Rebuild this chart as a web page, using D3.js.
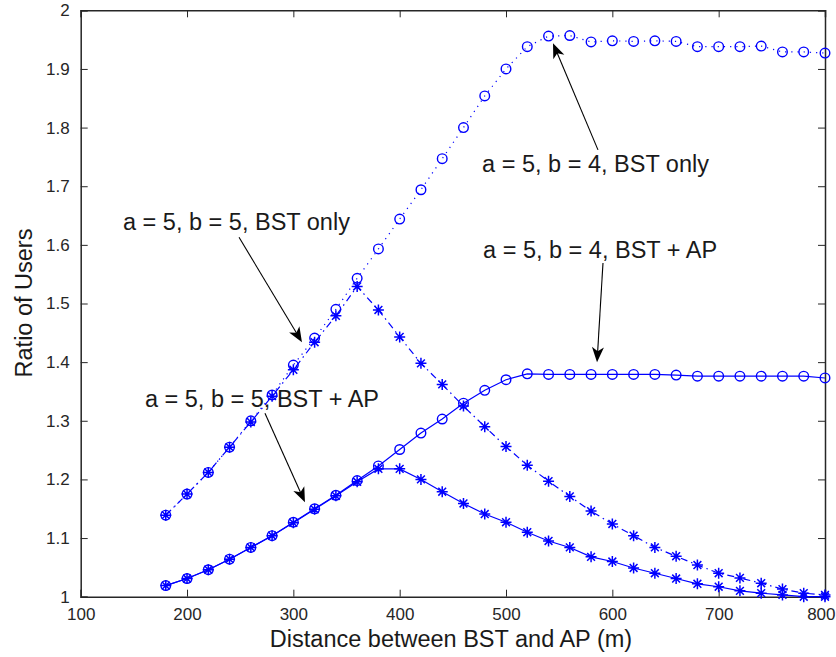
<!DOCTYPE html>
<html>
<head>
<meta charset="utf-8">
<script src="https://cdn.jsdelivr.net/npm/d3@7"></script>
<style>
  html, body { margin: 0; padding: 0; background: #fff; }
  svg { display: block; font-family: "Liberation Sans", Arial, sans-serif; }
  .axis path, .axis line { stroke: #262626; }
  .axis text { fill: #262626; font-size: 17px; }
</style>
</head>
<body>
<svg id="chart" width="836" height="657"></svg>
<script>
'use strict';

// Distances between BST and AP (m), one point every 20 m
const distances = [180, 200, 220, 240, 260, 280, 300, 320, 340, 360, 380, 400, 420, 440, 460, 480,
  500, 520, 540, 560, 580, 600, 620, 640, 660, 680, 700, 720, 740, 760, 780, 800];

// a = 5, b = 4, BST only (circles, dotted)
const bst4Only = [1.139, 1.175, 1.212, 1.255, 1.300, 1.344, 1.395, 1.441, 1.490, 1.543, 1.593, 1.644,
  1.694, 1.747, 1.800, 1.854, 1.900, 1.938, 1.956, 1.957, 1.946, 1.948, 1.947, 1.948, 1.947, 1.938,
  1.938, 1.938, 1.939, 1.929, 1.929, 1.927];

// a = 5, b = 5, BST only (stars, dash-dot)
const bst5Only = [1.139, 1.175, 1.212, 1.255, 1.298, 1.342, 1.387, 1.434, 1.479, 1.529, 1.489, 1.443,
  1.398, 1.362, 1.325, 1.290, 1.256, 1.224, 1.197, 1.171, 1.146, 1.124, 1.104, 1.084, 1.069, 1.054,
  1.040, 1.032, 1.023, 1.013, 1.006, 1.003];

// a = 5, b = 4, BST + AP (circles, solid)
const bst4Ap = [1.019, 1.031, 1.046, 1.064, 1.084, 1.104, 1.127, 1.150, 1.173, 1.198, 1.223, 1.251,
  1.279, 1.303, 1.330, 1.352, 1.370, 1.380, 1.379, 1.379, 1.379, 1.379, 1.379, 1.379, 1.378, 1.376,
  1.376, 1.376, 1.376, 1.376, 1.376, 1.373];

// a = 5, b = 5, BST + AP (stars, solid)
const bst5Ap = [1.019, 1.031, 1.046, 1.064, 1.084, 1.104, 1.126, 1.149, 1.172, 1.196, 1.218, 1.218,
  1.200, 1.179, 1.159, 1.141, 1.127, 1.110, 1.095, 1.084, 1.068, 1.060, 1.049, 1.040, 1.031, 1.022,
  1.017, 1.010, 1.006, 1.003, 1.000, 1.000];

const xTicks = [100, 200, 300, 400, 500, 600, 700, 800];
const yTicks = [1, 1.1, 1.2, 1.3, 1.4, 1.5, 1.6, 1.7, 1.8, 1.9, 2];

// Annotation texts, placed in data units: [label, textX, textY, tailX, tailY, headX, headY]
const notes = [
  ['a = 5, b = 4, BST only', 477.5, 1.724, 586.5, 1.762, 544.2, 1.944],
  ['a = 5, b = 5, BST only', 139.8, 1.625, 248.9, 1.613, 308.1, 1.434],
  ['a = 5, b = 4, BST + AP', 478.4, 1.578, 591.2, 1.569, 585.6, 1.400],
  ['a = 5, b = 5, BST + AP', 160.4, 1.324, 273.3, 1.313, 310.9, 1.161]
];

const margin = { top: 10.3, right: 11, bottom: 60.3, left: 80.7 };
const width = 836 - margin.left - margin.right;
const height = 657 - margin.top - margin.bottom;

const svg = d3.select('#chart');
const g = svg.append('g').attr('transform', `translate(${margin.left},${margin.top})`);

const x = d3.scaleLinear().domain([100, 800]).range([0, width]);
const y = d3.scaleLinear().domain([1, 2]).range([height, 0]);
const fmt = d3.format('~g');

// Axes : ticks point inward, mirrored on top and right
const xAxis = g.append('g').attr('class', 'axis')
  .attr('transform', `translate(0,${height})`)
  .call(d3.axisBottom(x).tickValues(xTicks).tickFormat(fmt).tickSize(-7).tickPadding(11));
g.append('g').attr('class', 'axis')
  .call(d3.axisTop(x).tickValues(xTicks).tickFormat('').tickSize(-7));
g.append('g').attr('class', 'axis')
  .call(d3.axisLeft(y).tickValues(yTicks).tickFormat(fmt).tickSize(-7).tickPadding(11));
g.append('g').attr('class', 'axis')
  .attr('transform', `translate(${width},0)`)
  .call(d3.axisRight(y).tickValues(yTicks).tickFormat('').tickSize(-7));
g.selectAll('.axis path').attr('stroke-width', 1.5);
g.selectAll('.axis text').style('font-size', '17px');

// keep the last x label inside the window
xAxis.selectAll('.tick text')
  .filter(d => d === 800)
  .attr('text-anchor', 'end')
  .attr('dx', 10);

// Curves
const series = [
  { values: bst4Only, dash: '1.2,5', marker: 'circle' },
  { values: bst5Only, dash: '7,4,1.5,4', marker: 'star' },
  { values: bst4Ap, dash: null, marker: 'circle' },
  { values: bst5Ap, dash: null, marker: 'star' }
];

const line = d3.line()
  .x((d, i) => x(distances[i]))
  .y(d => y(d));

series.forEach(s => {
  g.append('path')
    .datum(s.values)
    .attr('fill', 'none')
    .attr('stroke', '#0000ff')
    .attr('stroke-width', 1.2)
    .attr('stroke-dasharray', s.dash)
    .attr('d', line);

  const marks = g.append('g').selectAll('g')
    .data(s.values)
    .join('g')
    .attr('transform', (d, i) => `translate(${x(distances[i])},${y(d)})`);

  if (s.marker === 'circle') {
    marks.append('circle')
      .attr('r', 4.8)
      .attr('fill', 'none')
      .attr('stroke', '#0000ff')
      .attr('stroke-width', 1.4);
  } else {
    // MATLAB style asterisk : a plus and a cross
    marks.append('path')
      .attr('d', 'M-5.5,0H5.5M0,-5.5V5.5M-3.9,-3.9L3.9,3.9M-3.9,3.9L3.9,-3.9')
      .attr('fill', 'none')
      .attr('stroke', '#0000ff')
      .attr('stroke-width', 1.5);
  }
});

// Annotations with arrows
notes.forEach(n => {
  const [label, tx, ty, x1, y1, x2, y2] = n;
  const ax = x(x1), ay = y(y1), bx = x(x2), by = y(y2);
  const angle = Math.atan2(by - ay, bx - ax) * 180 / Math.PI;
  const len = Math.hypot(bx - ax, by - ay);

  const arrow = g.append('g')
    .attr('transform', `translate(${ax},${ay}) rotate(${angle})`);
  arrow.append('line')
    .attr('x1', 0).attr('y1', 0)
    .attr('x2', len - 8).attr('y2', 0)
    .attr('stroke', '#000')
    .attr('stroke-width', 1.1);
  arrow.append('path')
    .attr('d', `M${len},0L${len - 15},-6L${len - 11},0L${len - 15},6Z`)
    .attr('fill', '#000');

  g.append('text')
    .attr('x', x(tx))
    .attr('y', y(ty))
    .attr('fill', '#1a1a1a')
    .style('font-size', '23.5px')
    .text(label);
});

// Axis titles
svg.append('text')
  .attr('x', 451)
  .attr('y', 647)
  .attr('text-anchor', 'middle')
  .attr('fill', '#1a1a1a')
  .style('font-size', '23.5px')
  .text('Distance between BST and AP (m)');

svg.append('text')
  .attr('transform', 'translate(32,303) rotate(-90)')
  .attr('text-anchor', 'middle')
  .attr('fill', '#1a1a1a')
  .style('font-size', '23.5px')
  .text('Ratio of Users');
</script>
</body>
</html>
